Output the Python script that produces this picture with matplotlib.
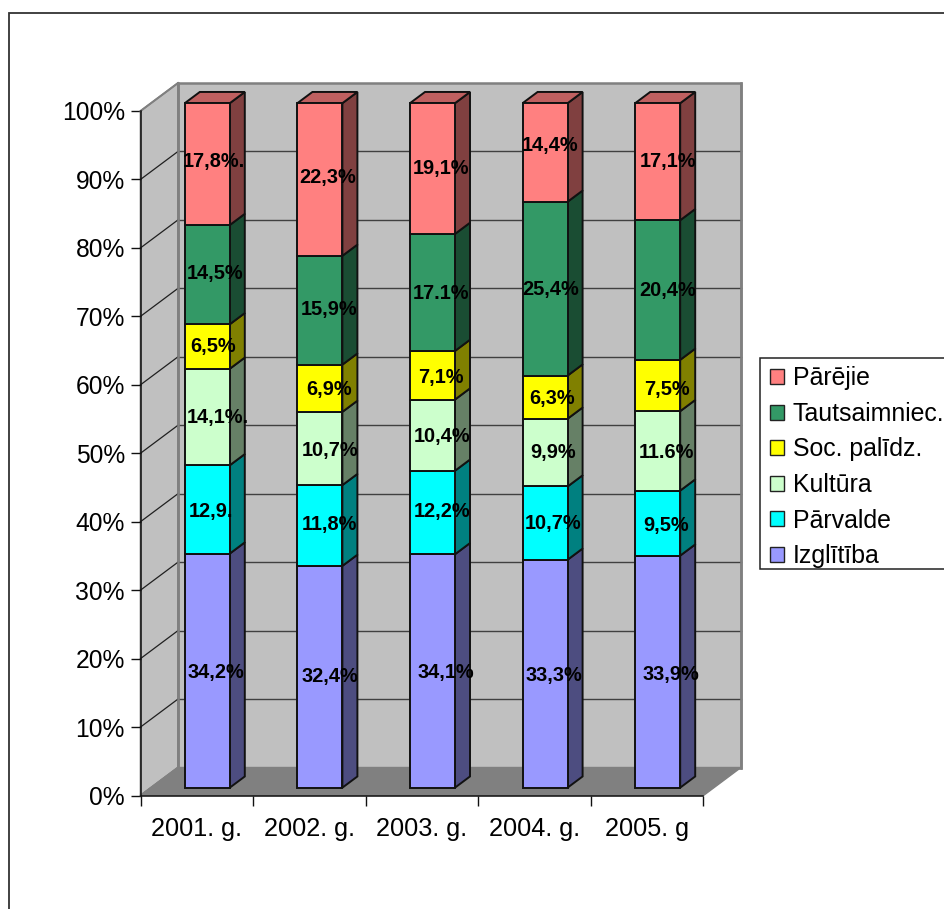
import matplotlib
matplotlib.use("Agg")
import matplotlib.pyplot as plt
import numpy as np
from matplotlib.patches import Rectangle, Patch
from matplotlib.colors import to_rgb

plt.rcParams['font.family'] = ['Liberation Sans', 'DejaVu Sans']

years = ["2001. g.", "2002. g.", "2003. g.", "2004. g.", "2005. g"]
izglitiba = [34.2, 32.4, 34.1, 33.3, 33.9]
parvalde = [12.9, 11.8, 12.2, 10.7, 9.5]
kultura = [14.1, 10.7, 10.4, 9.9, 11.6]
soc_palidz = [6.5, 6.9, 7.1, 6.3, 7.5]
tautsaimniec = [14.5, 15.9, 17.1, 25.4, 20.4]
parejie = [17.8, 22.3, 19.1, 14.4, 17.1]

series = [izglitiba, parvalde, kultura, soc_palidz, tautsaimniec, parejie]
names = ["Izglītība", "Pārvalde", "Kultūra", "Soc. palīdz.", "Tautsaimniec.", "Pārējie"]
colors = ["#9999FF", "#00FFFF", "#CCFFCC", "#FFFF00", "#339966", "#FF8080"]

value_labels = [
    ["34,2%", "32,4%", "34,1%", "33,3%", "33,9%"],
    ["12,9.", "11,8%", "12,2%", "10,7%", "9,5%"],
    ["14,1%.", "10,7%", "10,4%", "9,9%", "11.6%"],
    ["6,5%", "6,9%", "7,1%", "6,3%", "7,5%"],
    ["14,5%", "15,9%", "17.1%", "25,4%", "20,4%"],
    ["17,8%.", "22,3%", "19,1%", "14,4%", "17,1%"],
]
# label nudges from the bar centre, in pixels (dy positive = up)
label_dx = [
    [9, 10, 13, 9, 13],
    [4, 10, 10, 8, 8],
    [11, 10, 10, 8, 9],
    [6, 9, 8, 7, 9],
    [8, 9, 9, 6, 10],
    [7, 8, 9, 5, 10],
]
label_dy = [
    [-2, 0, -2, -2, -3],
    [-2, 1, 1, 0, -2],
    [0, -2, -1, 0, -2],
    [0, -1, -2, -1, -4],
    [1, 1, -1, -1, 0],
    [3, 2, 0, 7, 0],
]

W, H = 945, 909
L, R, B, T = 140.5, 703.5, 795.5, 111.0
fig = plt.figure(figsize=(W / 100, H / 100), dpi=100, facecolor="white")
ax = fig.add_axes([L / W, 1 - B / H, (R - L) / W, (B - T) / H])
ax.set_xlim(0, 5)
ax.set_ylim(0, 100)
ax.patch.set_visible(False)

px_x = 5 / (R - L)
px_y = 100 / (B - T)
depth_x = 37.5 * px_x
depth_y = 28 * px_y


def proj(x, y, d):
    return x + d * depth_x, y + d * depth_y


def face(pts, d_list, **kw):
    xs, ys = zip(*[proj(p[0], p[1], d) for p, d in zip(pts, d_list)])
    ax.fill(xs, ys, clip_on=False, **kw)


# walls and floor
WALL = "#C0C0C0"
EDGE = "#808080"
face([(0, 0), (0, 100), (0, 100), (0, 0)], [0, 0, 1, 1], facecolor=WALL, edgecolor=EDGE, lw=1.2, zorder=1)
face([(0, 0), (0, 100), (5, 100), (5, 0)], [1, 1, 1, 1], facecolor=WALL, edgecolor=EDGE, lw=1.8, zorder=1)
face([(0, 0), (5, 0), (5, 0), (0, 0)], [0, 0, 1, 1], facecolor=EDGE, edgecolor=EDGE, lw=1, zorder=1)

# gridlines on the side wall and back wall
for v in range(0, 101, 10):
    x0, y0 = proj(0, v, 0)
    x1, y1 = proj(0, v, 1)
    x2, y2 = proj(5, v, 1)
    if 0 < v < 100:
        ax.plot([x1, x2], [y1, y2], color="#404040", lw=1.0, clip_on=False, zorder=2)
    ax.plot([x0, x1], [y0, y1], color="#202020" if 0 < v < 100 else EDGE, lw=0.9 if 0 < v < 100 else 1.4,
            clip_on=False, zorder=2)
# wall edges drawn over the gridlines
x1, y1 = proj(0, 0, 1)
x2, y2 = proj(0, 100, 1)
ax.plot([x1, x2], [y1, y2], color=EDGE, lw=1.8, clip_on=False, zorder=2.5)
x1, y1 = proj(5, 0, 1)
x2, y2 = proj(5, 100, 1)
ax.plot([x1, x2], [y1, y2], color=EDGE, lw=1.8, clip_on=False, zorder=2.5)

# bars
D0, D1 = 0.28, 0.68
bar_w = 45.0 * px_x
values = np.array(series, dtype=float)
stack = values / values.sum(axis=0) * 100
bottoms = np.vstack([np.zeros(len(years)), np.cumsum(stack, axis=0)[:-1]])
xc = np.arange(len(years)) + 0.5


def shade(c, k):
    return tuple(k * v for v in to_rgb(c))


z = 3
for i in range(len(years)):
    left = xc[i] - bar_w / 2
    right = xc[i] + bar_w / 2
    for s in range(len(series)):
        b = bottoms[s, i]
        t = b + stack[s, i]
        face([(right, b), (right, t), (right, t), (right, b)], [D0, D0, D1, D1],
             facecolor=shade(colors[s], 0.5), edgecolor="#111111", lw=1.4, zorder=z)
    b = bottoms[-1, i] + stack[-1, i]
    face([(left, b), (right, b), (right, b), (left, b)], [D0, D0, D1, D1],
         facecolor=shade(colors[-1], 0.75), edgecolor="#111111", lw=1.4, zorder=z)
    x_off, y_off = proj(0, 0, D0)
    for s in range(len(series)):
        ax.bar(xc[i] + x_off, stack[s, i], bottom=bottoms[s, i] + y_off, width=bar_w,
               color=colors[s], edgecolor="#111111", linewidth=1.4, zorder=z + 0.5, clip_on=False)
    z += 1

x_off, y_off = proj(0, 0, D0)
for s in range(len(series)):
    for i in range(len(years)):
        ax.text(xc[i] + x_off + label_dx[s][i] * px_x,
                bottoms[s, i] + stack[s, i] / 2 + y_off + label_dy[s][i] * px_y,
                value_labels[s][i], ha="center", va="center", fontsize=14.4,
                fontweight="bold", color="black", zorder=20, clip_on=False)

# axes
for sp in ("top", "right"):
    ax.spines[sp].set_visible(False)
for sp in ("left", "bottom"):
    ax.spines[sp].set_color("#111111")
    ax.spines[sp].set_linewidth(1.1)
    ax.spines[sp].set_zorder(2.6)
ax.set_yticks(np.arange(0, 101, 10))
ax.set_yticklabels([f"{v}%" for v in range(0, 101, 10)], fontsize=17.7)
ax.tick_params(axis="y", length=7.2, width=1.0, color="#111111", pad=4)
ax.set_xticks(np.arange(0, 6))
ax.set_xticklabels([])
ax.set_xticks(xc, minor=True)
ax.set_xticklabels(years, minor=True, fontsize=18.2)
ax.tick_params(axis="x", which="major", length=7.2, width=1.0, color="#111111")
ax.tick_params(axis="x", which="minor", length=0, pad=15.5)

# outer chart border (right and bottom run off the canvas)
fig.add_artist(Rectangle((9.5 / W, -0.05), 1.1, 1.05 - 12.5 / H, transform=fig.transFigure,
                         fill=False, edgecolor="#333333", linewidth=1.3, zorder=0))

# legend frame runs off the right edge of the canvas
fig.add_artist(Rectangle((760.5 / W, 1 - 569 / H), 200 / W, 211 / H, transform=fig.transFigure,
                         facecolor="white", edgecolor="#222222", linewidth=1.1, zorder=1))
handles = [Patch(facecolor=c, edgecolor="#222222", linewidth=1.0) for c in colors][::-1]
leg = fig.legend(handles, names[::-1], loc="upper left",
                 bbox_to_anchor=(762.5 / W, 1 - 359 / H), bbox_transform=fig.transFigure,
                 frameon=False,
                 fontsize=17.9, handlelength=0.56, handleheight=0.56, handletextpad=0.36,
                 labelspacing=0.463, borderpad=0.3, borderaxespad=0)
leg.set_zorder(2)

fig.savefig("out.png", dpi=100, facecolor="white")
